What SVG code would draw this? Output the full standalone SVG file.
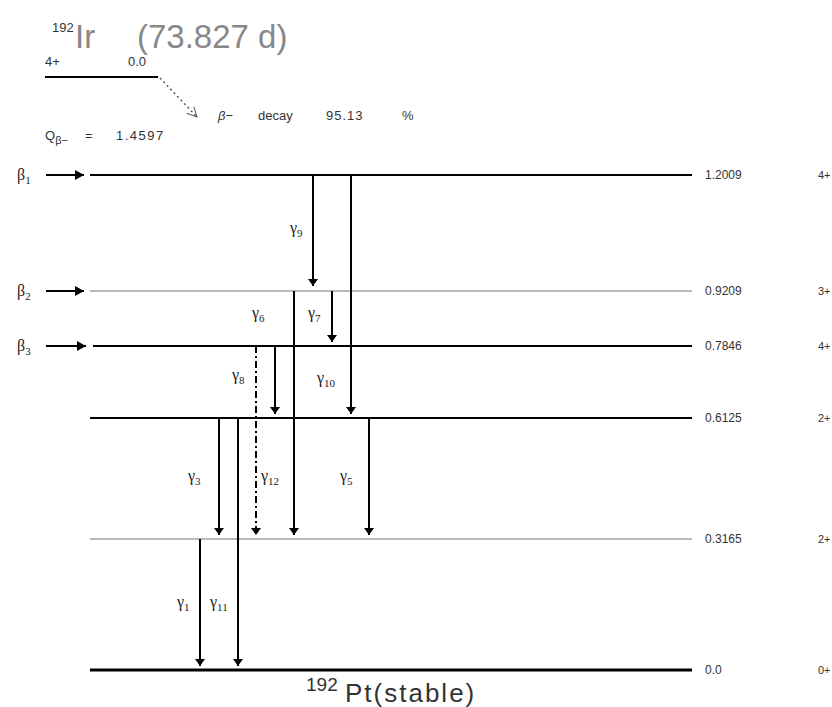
<svg xmlns="http://www.w3.org/2000/svg" width="832" height="707" viewBox="0 0 832 707">
<style>
.lvl{stroke:#000;stroke-width:2;fill:none}
.faint{stroke:#bbb}
.gam{stroke:#000;stroke-width:2;fill:none;marker-end:url(#ah)}
.gd{stroke-dasharray:7 3 2 3}
.t{font-family:"Liberation Sans",Arial,sans-serif;fill:#333}
.big{font-size:33px;fill:#888}
.sm{font-size:13px}
.en{font-size:12px}
.sp{font-size:11px}
.g{font-family:"Liberation Serif","Times New Roman",serif;font-size:16px;fill:#222}
.sub{font-size:11px}
</style>
<defs>
<marker id="ah" markerUnits="userSpaceOnUse" markerWidth="9" markerHeight="10" refX="7" refY="5" orient="auto">
<path d="M0,0 L7,5 L0,10 z" fill="#000"/>
</marker>
<marker id="bh" markerUnits="userSpaceOnUse" markerWidth="10" markerHeight="10" refX="9" refY="5" orient="auto">
<path d="M0,0 L9,5 L0,10 z" fill="#000"/>
</marker>
<marker id="oh" markerUnits="userSpaceOnUse" markerWidth="12" markerHeight="12" refX="10" refY="6" orient="auto">
<path d="M0,1 L10,6 L0,11" fill="none" stroke="#555" stroke-width="1"/>
</marker>
</defs>

<g id="parent">
<text class="t" x="52" y="32" font-size="13" fill="#888">192</text>
<text class="t big" x="75" y="48">Ir</text>
<text class="t big" x="137" y="48">(73.827 d)</text>
<text class="t sm" x="45" y="66">4+</text>
<text class="t sm" x="128" y="66">0.0</text>
<line class="lvl" x1="45" y1="77" x2="158" y2="77"/>
<text class="t sm" x="45" y="140">Q<tspan class="sub" dy="4">β−</tspan></text>
<text class="t sm" x="85" y="140">=</text>
<text class="t sm" x="116" y="140" letter-spacing="1.5">1.4597</text>
</g>

<g id="decay-label">
<text class="t sm" x="218" y="120"><tspan font-style="italic">β</tspan>−</text>
<text class="t sm" x="258" y="120">decay</text>
<text class="t sm" x="326" y="120" letter-spacing="1">95.13</text>
<text class="t sm" x="402" y="120">%</text>
</g>

<g id="levels">
<g id="lvl-1201"><line class="lvl" x1="90" y1="175" x2="692" y2="175"/><text class="t en" x="705" y="179">1.2009</text><text class="t sp" x="818" y="179">4+</text></g>
<g id="lvl-921"><line class="lvl faint" x1="90" y1="291" x2="692" y2="291"/><text class="t en" x="705" y="295">0.9209</text><text class="t sp" x="818" y="295">3+</text></g>
<g id="lvl-785"><line class="lvl" x1="93" y1="346" x2="692" y2="346"/><text class="t en" x="705" y="350">0.7846</text><text class="t sp" x="818" y="350">4+</text></g>
<g id="lvl-612"><line class="lvl" x1="90" y1="418" x2="692" y2="418"/><text class="t en" x="705" y="422">0.6125</text><text class="t sp" x="818" y="422">2+</text></g>
<g id="lvl-316"><line class="lvl faint" x1="90" y1="539" x2="692" y2="539"/><text class="t en" x="705" y="543">0.3165</text><text class="t sp" x="818" y="543">2+</text></g>
<g id="lvl-0"><line class="lvl" x1="90" y1="670" x2="692" y2="670" style="stroke-width:3"/><text class="t en" x="705" y="674">0.0</text><text class="t sp" x="818" y="674">0+</text>
<text class="t" font-size="19" x="306" y="691" fill="#888">192</text><text class="t" font-size="26" x="345" y="702" fill="#888" letter-spacing="2">Pt(stable)</text></g>
</g>

<g id="beta-feeds">
<text class="g" x="17" y="180">β<tspan class="sub" dy="4">1</tspan></text>
<text class="g" x="17" y="296">β<tspan class="sub" dy="4">2</tspan></text>
<text class="g" x="17" y="351">β<tspan class="sub" dy="4">3</tspan></text>
</g>

<g id="connectors">
<line x1="160" y1="78" x2="197" y2="117" stroke="#555" stroke-width="1.5" stroke-dasharray="2 3" marker-end="url(#oh)"/>
<line x1="46" y1="175" x2="84" y2="175" stroke="#000" stroke-width="2" marker-end="url(#bh)"/>
<line x1="46" y1="291" x2="84" y2="291" stroke="#000" stroke-width="2" marker-end="url(#bh)"/>
<line x1="46" y1="346" x2="86" y2="346" stroke="#000" stroke-width="2" marker-end="url(#bh)"/>
<line class="gam" x1="313" y1="175" x2="313" y2="286"/>
<line class="gam" x1="351" y1="175" x2="351" y2="414"/>
<line class="gam" x1="294" y1="291" x2="294" y2="535"/>
<line class="gam" x1="332" y1="291" x2="332" y2="342"/>
<line class="gam" x1="275" y1="346" x2="275" y2="414"/>
<line class="gam gd" x1="256" y1="346" x2="256" y2="535"/>
<line class="gam" x1="219" y1="418" x2="219" y2="535"/>
<line class="gam" x1="238" y1="418" x2="238" y2="666"/>
<line class="gam" x1="369" y1="418" x2="369" y2="535"/>
<line class="gam" x1="200" y1="539" x2="200" y2="666"/>
</g>

<g id="gamma-labels">
<text class="g" x="290" y="233">γ<tspan class="sub" dy="4">9</tspan></text>
<text class="g" x="317" y="383">γ<tspan class="sub" dy="4">10</tspan></text>
<text class="g" x="252" y="318">γ<tspan class="sub" dy="4">6</tspan></text>
<text class="g" x="308" y="318">γ<tspan class="sub" dy="4">7</tspan></text>
<text class="g" x="232" y="380">γ<tspan class="sub" dy="4">8</tspan></text>
<text class="g" x="261" y="481">γ<tspan class="sub" dy="4">12</tspan></text>
<text class="g" x="188" y="481">γ<tspan class="sub" dy="4">3</tspan></text>
<text class="g" x="340" y="481">γ<tspan class="sub" dy="4">5</tspan></text>
<text class="g" x="177" y="607">γ<tspan class="sub" dy="4">1</tspan></text>
<text class="g" x="210" y="607">γ<tspan class="sub" dy="4">11</tspan></text>
</g>
</svg>
